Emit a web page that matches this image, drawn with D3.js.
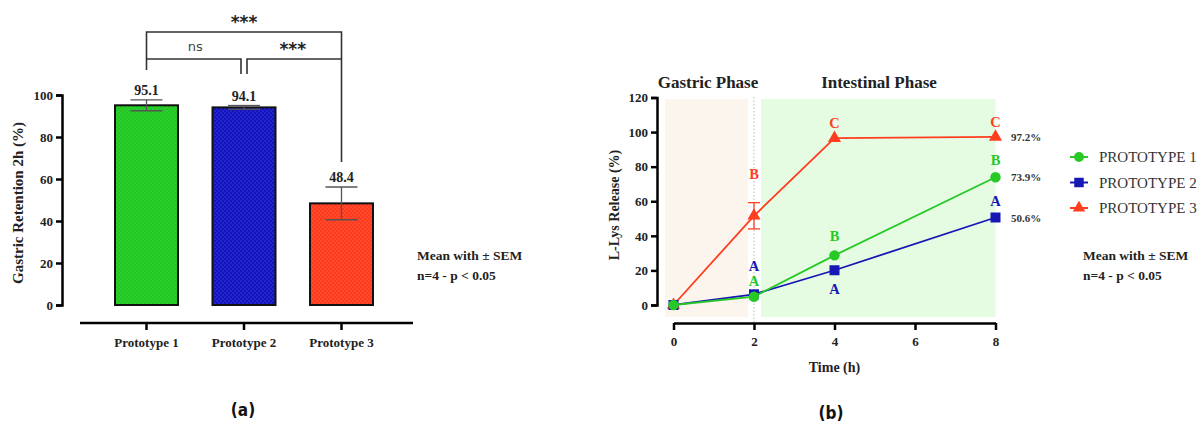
<!DOCTYPE html>
<html>
<head>
<meta charset="utf-8">
<script src="https://cdn.jsdelivr.net/npm/d3@7"></script>
<style>
  body { margin: 0; background: #fff; }
  svg { display: block; }
</style>
</head>
<body>
<div class="svg-container"></div>
<script>
const w = 1202;
const h = 425;

// ---- data: panel (a)
const prototypes = ['Prototype 1', 'Prototype 2', 'Prototype 3'];
const retention = [95.1, 94.1, 48.4];
const retentionSem = [2.6, 0.9, 7.8];
const retentionTicks = [0, 20, 40, 60, 80, 100];

// ---- data: panel (b)
const times = [0, 2, 4, 8];
const seriesNames = ['PROTOTYPE 1', 'PROTOTYPE 2', 'PROTOTYPE 3'];
const release1 = [0, 4.8, 28.7, 73.9];
const release2 = [0, 6.2, 20.1, 50.6];
const release3 = [0, 51.6, 96.5, 97.2];
const release3Sem = [0, 7.6, 0.8, 0.5];
const letters1 = ['', 'A', 'B', 'B'];
const letters2 = ['', 'A', 'A', 'A'];
const letters3 = ['', 'B', 'C', 'C'];
const finalLabels = ['73.9%', '50.6%', '97.2%'];
const releaseTicks = [0, 20, 40, 60, 80, 100, 120];
const timeTicks = [0, 2, 4, 6, 8];

const serif = '"Liberation Serif", "DejaVu Serif", serif';
const barColors = ['#1ec81e', '#1212c0', '#ff3a1c'];
const lineColors = ['#26c926', '#1717b4', '#ff3d1f'];
const dark = '#222';

const svg = d3
	.select('.svg-container')
	.append('svg')
	.attr('width', w)
	.attr('height', h)
	.style('background-color', '#fff')
	.style('font-family', serif);

// dotted texture for bars
const defs = svg.append('defs');
barColors.forEach((c, i) => {
	const p = defs
		.append('pattern')
		.attr('id', 'dots' + i)
		.attr('width', 4)
		.attr('height', 4)
		.attr('patternUnits', 'userSpaceOnUse');
	p.append('rect').attr('width', 4).attr('height', 4).attr('fill', c);
	p.append('circle').attr('cx', 1).attr('cy', 1).attr('r', 0.6).attr('fill', '#fff').attr('opacity', 0.35);
	p.append('circle').attr('cx', 3).attr('cy', 3).attr('r', 0.6).attr('fill', '#fff').attr('opacity', 0.35);
});

// =================== panel (a)
const xA = d3.scalePoint().domain(prototypes).range([146.5, 341.5]);
const yA = d3.scaleLinear().domain([0, 100]).range([305, 95]);
const barW = 63;

const yAxisA = svg
	.append('g')
	.attr('transform', 'translate(62,0)')
	.call(d3.axisLeft(yA).tickValues(retentionTicks).tickSize(6).tickPadding(3));
yAxisA.select('.domain').attr('stroke', '#000').attr('stroke-width', 2.5);
yAxisA.selectAll('.tick line').attr('stroke', '#000').attr('stroke-width', 2.5);
yAxisA.selectAll('.tick text')
	.style('font-family', serif)
	.style('font-size', '13px')
	.style('font-weight', 'bold')
	.attr('fill', dark);

const xAxisA = svg.append('g').attr('transform', 'translate(0,323)');
xAxisA.append('line').attr('x1', 80).attr('x2', 413).attr('stroke', '#000').attr('stroke-width', 2.5);
xAxisA
	.selectAll('line.tk')
	.data(prototypes)
	.enter()
	.append('line')
	.attr('class', 'tk')
	.attr('x1', d => xA(d))
	.attr('x2', d => xA(d))
	.attr('y1', 0)
	.attr('y2', 7)
	.attr('stroke', '#000')
	.attr('stroke-width', 2.5);
xAxisA
	.selectAll('text')
	.data(prototypes)
	.enter()
	.append('text')
	.attr('x', d => xA(d))
	.attr('y', 24)
	.attr('text-anchor', 'middle')
	.style('font-size', '13px')
	.style('font-weight', 'bold')
	.attr('fill', dark)
	.text(d => d);

svg
	.selectAll('rect.bar')
	.data(prototypes)
	.enter()
	.append('rect')
	.attr('class', 'bar')
	.attr('x', d => xA(d) - barW / 2)
	.attr('y', (d, i) => yA(retention[i]))
	.attr('width', barW)
	.attr('height', (d, i) => yA(0) - yA(retention[i]))
	.attr('fill', (d, i) => `url(#dots${i})`)
	.attr('stroke', '#111')
	.attr('stroke-width', 2);

// error bars
const errA = svg.append('g').attr('stroke', '#555').attr('stroke-width', 1.3);
prototypes.forEach((d, i) => {
	const x = xA(d);
	const hi = yA(retention[i] + retentionSem[i]);
	const lo = yA(retention[i] - retentionSem[i]);
	errA.append('line').attr('x1', x).attr('x2', x).attr('y1', hi).attr('y2', lo);
	errA.append('line').attr('x1', x - 16).attr('x2', x + 16).attr('y1', hi).attr('y2', hi);
	errA.append('line').attr('x1', x - 16).attr('x2', x + 16).attr('y1', lo).attr('y2', lo);
});

svg
	.selectAll('text.val')
	.data(prototypes)
	.enter()
	.append('text')
	.attr('class', 'val')
	.attr('x', d => xA(d))
	.attr('y', (d, i) => yA(retention[i] + retentionSem[i]) - 5)
	.attr('text-anchor', 'middle')
	.style('font-size', '14px')
	.style('font-weight', 'bold')
	.attr('fill', dark)
	.text((d, i) => retention[i].toFixed(1));

svg
	.append('text')
	.attr('transform', 'translate(23,203) rotate(-90)')
	.attr('text-anchor', 'middle')
	.style('font-size', '15px')
	.style('font-weight', 'bold')
	.attr('fill', dark)
	.text('Gastric Retention 2h (%)');

// significance brackets
const x1 = xA(prototypes[0]);
const x2 = xA(prototypes[1]);
const x3 = xA(prototypes[2]);
const br = svg.append('g').attr('fill', 'none').attr('stroke', '#333').attr('stroke-width', 1.6);
br.append('path').attr('d', `M${x1},70V32H${x3}V162`);
br.append('path').attr('d', `M${x1},59H${x2 - 3}V74`);
br.append('path').attr('d', `M${x2 + 3},74V59H${x3}`);

svg.append('text').attr('x', (x1 + x3) / 2).attr('y', 28).attr('text-anchor', 'middle')
	.style('font-family', '"DejaVu Sans", sans-serif').style('font-size', '17px').style('font-weight', 'bold')
	.attr('fill', dark).text('***');
svg.append('text').attr('x', (x1 + x2) / 2).attr('y', 51).attr('text-anchor', 'middle')
	.style('font-family', '"DejaVu Sans", sans-serif').style('font-size', '13px')
	.attr('fill', '#444').text('ns');
svg.append('text').attr('x', (x2 + x3) / 2).attr('y', 55).attr('text-anchor', 'middle')
	.style('font-family', '"DejaVu Sans", sans-serif').style('font-size', '17px').style('font-weight', 'bold')
	.attr('fill', dark).text('***');

function note(x) {
	const g = svg.append('g').style('font-size', '13.5px').style('font-weight', 'bold').attr('fill', dark);
	g.append('text').attr('x', x).attr('y', 260).text('Mean with ± SEM');
	g.append('text').attr('x', x).attr('y', 280).text('n=4 - p < 0.05');
}
note(417);

svg.append('text').attr('x', 243).attr('y', 416).attr('text-anchor', 'middle')
	.style('font-family', '"DejaVu Sans Condensed", "DejaVu Sans", sans-serif').style('font-size', '17px')
	.style('font-weight', 'bold').attr('fill', '#111').text('(a)');

// =================== panel (b)
const xB = d3.scaleLinear().domain([0, 8]).range([673.5, 995.5]);
const yB = d3.scaleLinear().domain([0, 120]).range([305, 97.5]);

svg.append('rect').attr('x', 665).attr('y', 99).attr('width', 83).attr('height', 218).attr('fill', '#fcf5ee');
svg.append('rect').attr('x', 761).attr('y', 99).attr('width', xB(8) - 761).attr('height', 218).attr('fill', '#e5fce3');
svg.append('line').attr('x1', xB(2)).attr('x2', xB(2)).attr('y1', 97).attr('y2', 322)
	.attr('stroke', '#bbb').attr('stroke-width', 1).attr('stroke-dasharray', '1.5,2');

svg.append('text').attr('x', 708).attr('y', 88).attr('text-anchor', 'middle')
	.style('font-size', '17px').style('font-weight', 'bold').attr('fill', dark).text('Gastric Phase');
svg.append('text').attr('x', 879).attr('y', 88).attr('text-anchor', 'middle')
	.style('font-size', '17px').style('font-weight', 'bold').attr('fill', dark).text('Intestinal Phase');

const yAxisB = svg
	.append('g')
	.attr('transform', 'translate(657,0)')
	.call(d3.axisLeft(yB).tickValues(releaseTicks).tickSize(6).tickPadding(3));
yAxisB.select('.domain').attr('stroke', '#000').attr('stroke-width', 2.5);
yAxisB.selectAll('.tick line').attr('stroke', '#000').attr('stroke-width', 2.5);
yAxisB.selectAll('.tick text')
	.style('font-family', serif).style('font-size', '13px').style('font-weight', 'bold').attr('fill', dark);

const xAxisB = svg
	.append('g')
	.attr('transform', 'translate(0,323)')
	.call(d3.axisBottom(xB).tickValues(timeTicks).tickSize(7).tickPadding(7).tickSizeOuter(0));
xAxisB.select('.domain').attr('stroke', '#000').attr('stroke-width', 2.5);
xAxisB.selectAll('.tick line').attr('stroke', '#000').attr('stroke-width', 2.5);
xAxisB.selectAll('.tick text')
	.style('font-family', serif).style('font-size', '13px').style('font-weight', 'bold').attr('fill', dark);

svg.append('text').attr('x', xB(4)).attr('y', 372).attr('text-anchor', 'middle')
	.style('font-size', '14px').style('font-weight', 'bold').attr('fill', dark).text('Time (h)');
svg.append('text').attr('transform', 'translate(619,205) rotate(-90)').attr('text-anchor', 'middle')
	.style('font-size', '14px').style('font-weight', 'bold').attr('fill', dark).text('L-Lys Release (%)');

const series = [
	{name: seriesNames[0], values: release1, letters: letters1, color: lineColors[0], symbol: d3.symbolCircle, size: 85},
	{name: seriesNames[1], values: release2, letters: letters2, color: lineColors[1], symbol: d3.symbolSquare, size: 100},
	{name: seriesNames[2], values: release3, letters: letters3, color: lineColors[2], symbol: d3.symbolTriangle, size: 75},
];

const line = d3.line().x(d => xB(d[0])).y(d => yB(d[1]));

// red error bars
const errB = svg.append('g').attr('stroke', lineColors[2]).attr('stroke-width', 1.3);
times.forEach((t, i) => {
	if (release3Sem[i] < 2) return;
	const hi = yB(release3[i] + release3Sem[i]);
	const lo = yB(release3[i] - release3Sem[i]);
	errB.append('line').attr('x1', xB(t)).attr('x2', xB(t)).attr('y1', hi).attr('y2', lo);
	errB.append('line').attr('x1', xB(t) - 6).attr('x2', xB(t) + 6).attr('y1', hi).attr('y2', hi);
	errB.append('line').attr('x1', xB(t) - 6).attr('x2', xB(t) + 6).attr('y1', lo).attr('y2', lo);
});

// draw order: red, blue, green on top
[2, 1, 0].forEach(k => {
	const s = series[k];
	const pts = times.map((t, i) => [t, s.values[i]]);
	svg.append('path').datum(pts).attr('d', line).attr('fill', 'none').attr('stroke', s.color).attr('stroke-width', 1.8);
	svg
		.selectAll(null)
		.data(pts)
		.enter()
		.append('path')
		.attr('d', d3.symbol().type(s.symbol).size(s.size))
		.attr('transform', d => `translate(${xB(d[0])},${yB(d[1])})`)
		.attr('fill', s.color);
});

// letters: baseline offset (px) relative to the point, negative = above
const letterDy = [
	[0, -11, -14, -12],  // prototype 1 (green)
	[0, -23, 24, -12],   // prototype 2 (blue)
	[0, -33, -10, -10],  // prototype 3 (red)
];
series.forEach((s, k) => {
	times.forEach((t, i) => {
		if (!s.letters[i]) return;
		const base = k === 2 && i === 1 ? yB(release3[i] + release3Sem[i]) + 9 : yB(s.values[i]);
		svg.append('text').attr('x', xB(t)).attr('y', base + letterDy[k][i]).attr('text-anchor', 'middle')
			.style('font-size', '14.5px').style('font-weight', 'bold').attr('fill', s.color).text(s.letters[i]);
	});
});

// final value labels
series.forEach((s, k) => {
	svg.append('text').attr('x', 1011).attr('y', yB(s.values[3]) + 4)
		.style('font-size', '11px').style('font-weight', 'bold').attr('fill', '#333').text(finalLabels[k]);
});

// legend
const legend = svg.append('g').attr('id', 'legend');
series.forEach((s, k) => {
	const g = legend.append('g').attr('transform', `translate(1070,${157 + k * 25.5})`);
	g.append('line').attr('x1', 0).attr('x2', 18).attr('stroke', s.color).attr('stroke-width', 2);
	g.append('path').attr('d', d3.symbol().type(s.symbol).size(s.size * 0.9)).attr('transform', 'translate(9,0)').attr('fill', s.color);
	g.append('text').attr('x', 29).attr('y', 5).style('font-size', '15px').attr('fill', '#333').text(s.name);
});

note(1083);

svg.append('text').attr('x', 831).attr('y', 419).attr('text-anchor', 'middle')
	.style('font-family', '"DejaVu Sans Condensed", "DejaVu Sans", sans-serif').style('font-size', '17px')
	.style('font-weight', 'bold').attr('fill', '#111').text('(b)');
</script>
</body>
</html>
